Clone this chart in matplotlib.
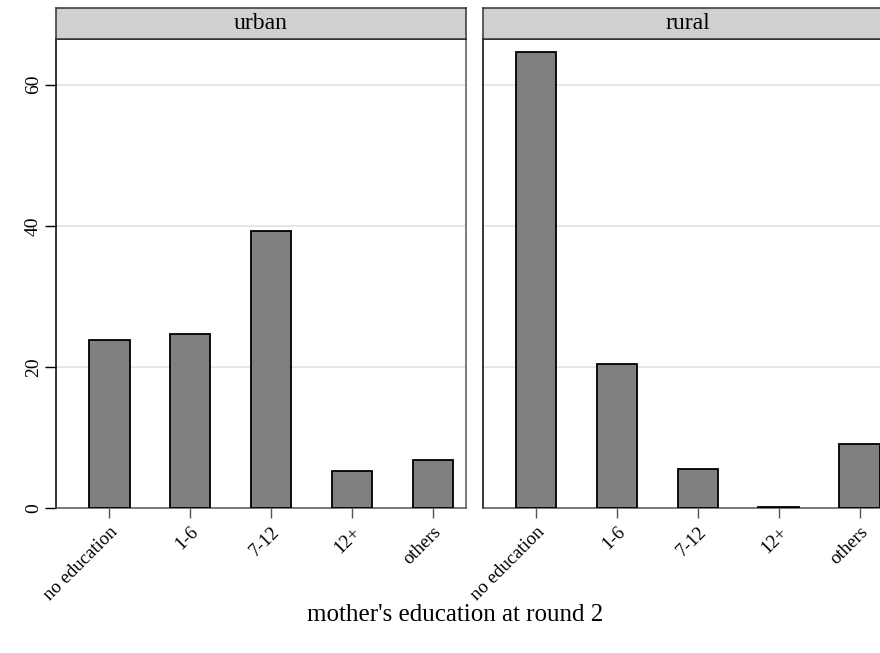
import matplotlib
matplotlib.use("Agg")
import matplotlib.pyplot as plt
import numpy as np

plt.rcParams['font.family'] = ['Liberation Serif', 'DejaVu Serif']

categories = ["no education", "1-6", "7-12", "12+", "others"]
panels = ["urban", "rural"]
urban = [23.8, 24.7, 39.2, 5.3, 6.9]
rural = [64.6, 20.5, 5.6, 0.15, 9.1]
yticks = [0, 20, 40, 60]
xlabel = "mother's education at round 2"

W, H = 880, 653
fig = plt.figure(figsize=(W / 100, H / 100), dpi=100)

# pixel geometry of the panels (right one runs off the page like the original)
left_px = [56, 482.7]
pw = 410
top_px, bot_px = 39.3, 508.3
strip_h = 31

x = np.arange(1, len(categories) + 1)

for i, (name, vals) in enumerate(zip(panels, [urban, rural])):
    ax = fig.add_axes([left_px[i] / W, 1 - bot_px / H, pw / W, (bot_px - top_px) / H])
    ax.bar(x, vals, width=0.5, color="#808080", edgecolor="black", linewidth=1.3, zorder=3)
    ax.set_xlim(0.34, 5.41)
    ax.set_ylim(0, 66.4)
    ax.set_yticks(yticks)
    for yv in yticks[1:]:
        ax.axhline(yv, color="#e2e2e2", linewidth=1.2, zorder=1)
    ax.set_xticks(x)
    ax.set_xticklabels(categories, rotation=45, ha="right", rotation_mode="anchor", fontsize=13.5)
    ax.tick_params(axis="x", direction="out", length=7, width=1, color="#555555", pad=4)
    if i == 0:
        ax.set_yticklabels([str(v) for v in yticks], rotation=90, va="center", fontsize=14)
        ax.tick_params(axis="y", direction="out", length=8, width=1, color="black", pad=2)
    else:
        ax.tick_params(axis="y", left=False, labelleft=False)
    for s in ["left", "top"]:
        ax.spines[s].set_color("black")
    for s in ["right", "bottom"]:
        ax.spines[s].set_color("#555555")
    for s in ax.spines.values():
        s.set_linewidth(1.1)

    # facet strip
    sax = fig.add_axes([left_px[i] / W, 1 - top_px / H, pw / W, strip_h / H])
    sax.set_facecolor("#d0d0d0")
    sax.set_xticks([])
    sax.set_yticks([])
    for s in sax.spines.values():
        s.set_color("#333333")
        s.set_linewidth(1.1)
    sax.text(0.5, 0.5, name, ha="center", va="center", fontsize=17, transform=sax.transAxes)

fig.text(455 / W, 1 - 615 / H, xlabel, ha="center", va="center", fontsize=18)

fig.savefig("out.png", dpi=100)
